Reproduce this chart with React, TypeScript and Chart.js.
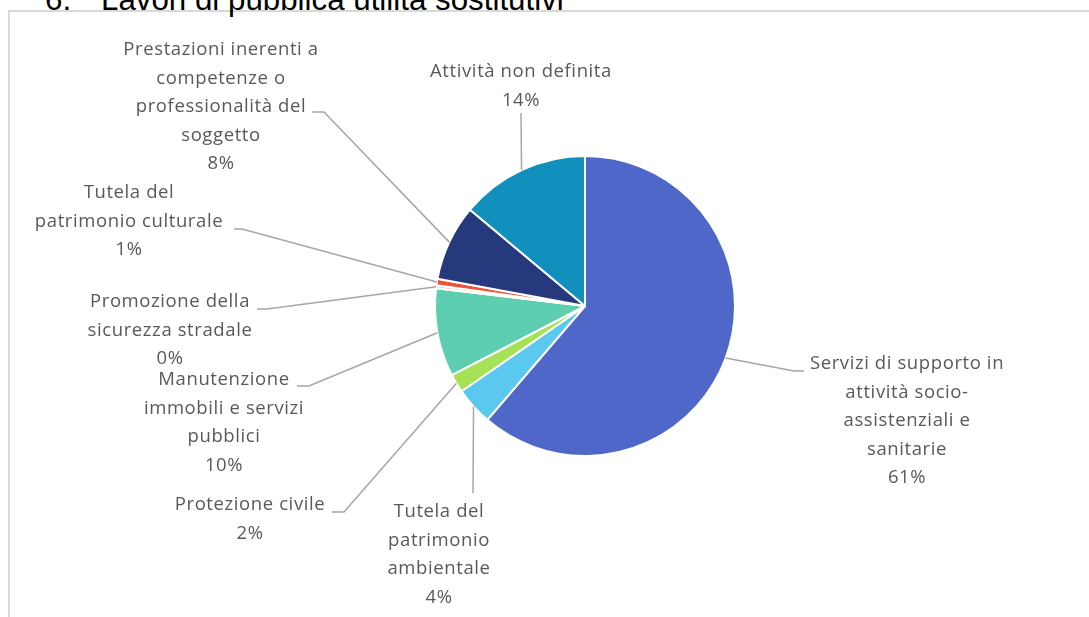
import React, { useEffect, useRef } from "react";
import { Chart, registerables } from "chart.js";

Chart.register(...registerables);

const TITLE_NUMBER = "6.";
const TITLE_TEXT = "Lavori di pubblica utilità sostitutivi";

const categories: string[][] = [
  ["Servizi di supporto in", "attività socio-", "assistenziali e", "sanitarie"],
  ["Tutela del", "patrimonio", "ambientale"],
  ["Protezione civile"],
  ["Manutenzione", "immobili e servizi", "pubblici"],
  ["Promozione della", "sicurezza stradale"],
  ["Tutela del", "patrimonio culturale"],
  ["Prestazioni inerenti a", "competenze o", "professionalità del", "soggetto"],
  ["Attività non definita"],
];

const values: number[] = [61.28, 4.1, 2.0, 9.52, 0.3, 0.7, 8.2, 13.9];

const colors: string[] = [
  "#4F67C9",
  "#5BC8F0",
  "#A6E256",
  "#5DCEAF",
  "#F8CBAD",
  "#F0533B",
  "#27397D",
  "#1190BE",
];

// label layout, relative to the pie centre: text = first line centre, elbow/end = leader line points
type Pt = [number, number];
const LABEL_LAYOUT: { text: Pt; elbow?: Pt; end: Pt }[] = [
  { text: [322, 58], elbow: [209, 65], end: [219, 65] },
  { text: [-146, 206], end: [-112, 187] },
  { text: [-335, 199], elbow: [-241, 206], end: [-253, 206] },
  { text: [-361, 74], elbow: [-276, 80], end: [-288, 80] },
  { text: [-415, -4], elbow: [-318, 3], end: [-328, 3] },
  { text: [-456, -113], elbow: [-343, -77], end: [-351, -77] },
  { text: [-364, -256], elbow: [-261, -194], end: [-273, -194] },
  { text: [-64, -234], end: [-64, -193] },
];

const LINE_HEIGHT = 28.5;
const LABEL_FONT = '18.5px "Open Sans", "Noto Sans", sans-serif';

const labelPlugin = {
  id: "excelLabels",
  afterDraw(chart: any) {
    const ctx = chart.ctx as CanvasRenderingContext2D;
    const meta = chart.getDatasetMeta(0);
    const data = chart.data.datasets[0].data as number[];
    const total = data.reduce((a, b) => a + b, 0);
    ctx.save();
    meta.data.forEach((arc: any, i: number) => {
      const { x, y, startAngle, endAngle, outerRadius } = arc.getProps(
        ["x", "y", "startAngle", "endAngle", "outerRadius"],
        true
      );
      const mid = (startAngle + endAngle) / 2;
      const sx = x + Math.cos(mid) * outerRadius;
      const sy = y + Math.sin(mid) * outerRadius;
      const lay = LABEL_LAYOUT[i];
      ctx.strokeStyle = "#A6A6A6";
      ctx.lineWidth = 1.5;
      ctx.beginPath();
      ctx.moveTo(sx, sy);
      if (lay.elbow) ctx.lineTo(x + lay.elbow[0], y + lay.elbow[1]);
      ctx.lineTo(x + lay.end[0], y + lay.end[1]);
      ctx.stroke();

      const pct = Math.round((data[i] / total) * 100) + "%";
      const lines = [...categories[i], pct];
      ctx.fillStyle = "#595959";
      ctx.font = LABEL_FONT;
      (ctx as any).letterSpacing = "0.6px";
      ctx.textAlign = "center";
      ctx.textBaseline = "middle";
      lines.forEach((t, k) => {
        ctx.fillText(t, x + lay.text[0], y + lay.text[1] + k * LINE_HEIGHT);
      });
    });
    ctx.restore();
  },
};

export default function App() {
  const ref = useRef<HTMLCanvasElement | null>(null);
  useEffect(() => {
    if (!ref.current) return;
    const chart = new Chart(ref.current, {
      type: "pie",
      data: {
        labels: categories.map((c) => c.join(" ")),
        datasets: [
          {
            data: values,
            backgroundColor: colors,
            borderColor: "#FFFFFF",
            borderWidth: 2,
            hoverOffset: 0,
            offset: 0,
          },
        ],
      },
      options: {
        responsive: false,
        animation: false,
        layout: { padding: { left: 434, right: 353, top: 155, bottom: 160 } },
        plugins: {
          legend: { display: false },
          tooltip: { enabled: false },
          title: { display: false },
        },
        events: [],
      },
      plugins: [labelPlugin],
    });
    return () => chart.destroy();
  }, []);

  const titleStyle: React.CSSProperties = {
    position: "absolute",
    top: -18,
    font: '31.3px "Liberation Sans", Arial, sans-serif',
    lineHeight: "35px",
    color: "#000000",
    whiteSpace: "nowrap",
  };

  return (
    <div
      style={{
        position: "absolute",
        left: 0,
        top: 0,
        width: 1089,
        height: 617,
        overflow: "hidden",
        background: "#FFFFFF",
      }}
    >
      <div
        style={{
          position: "absolute",
          left: 8,
          top: 10,
          width: 1200,
          height: 800,
          border: "2px solid #D9D9D9",
          boxSizing: "border-box",
        }}
      />
      <div style={{ ...titleStyle, left: 45 }}>{TITLE_NUMBER}</div>
      <div style={{ ...titleStyle, left: 101 }}>{TITLE_TEXT}</div>
      <canvas
        ref={ref}
        width={1089}
        height={617}
        style={{ position: "absolute", left: 0, top: 0 }}
      />
    </div>
  );
}
